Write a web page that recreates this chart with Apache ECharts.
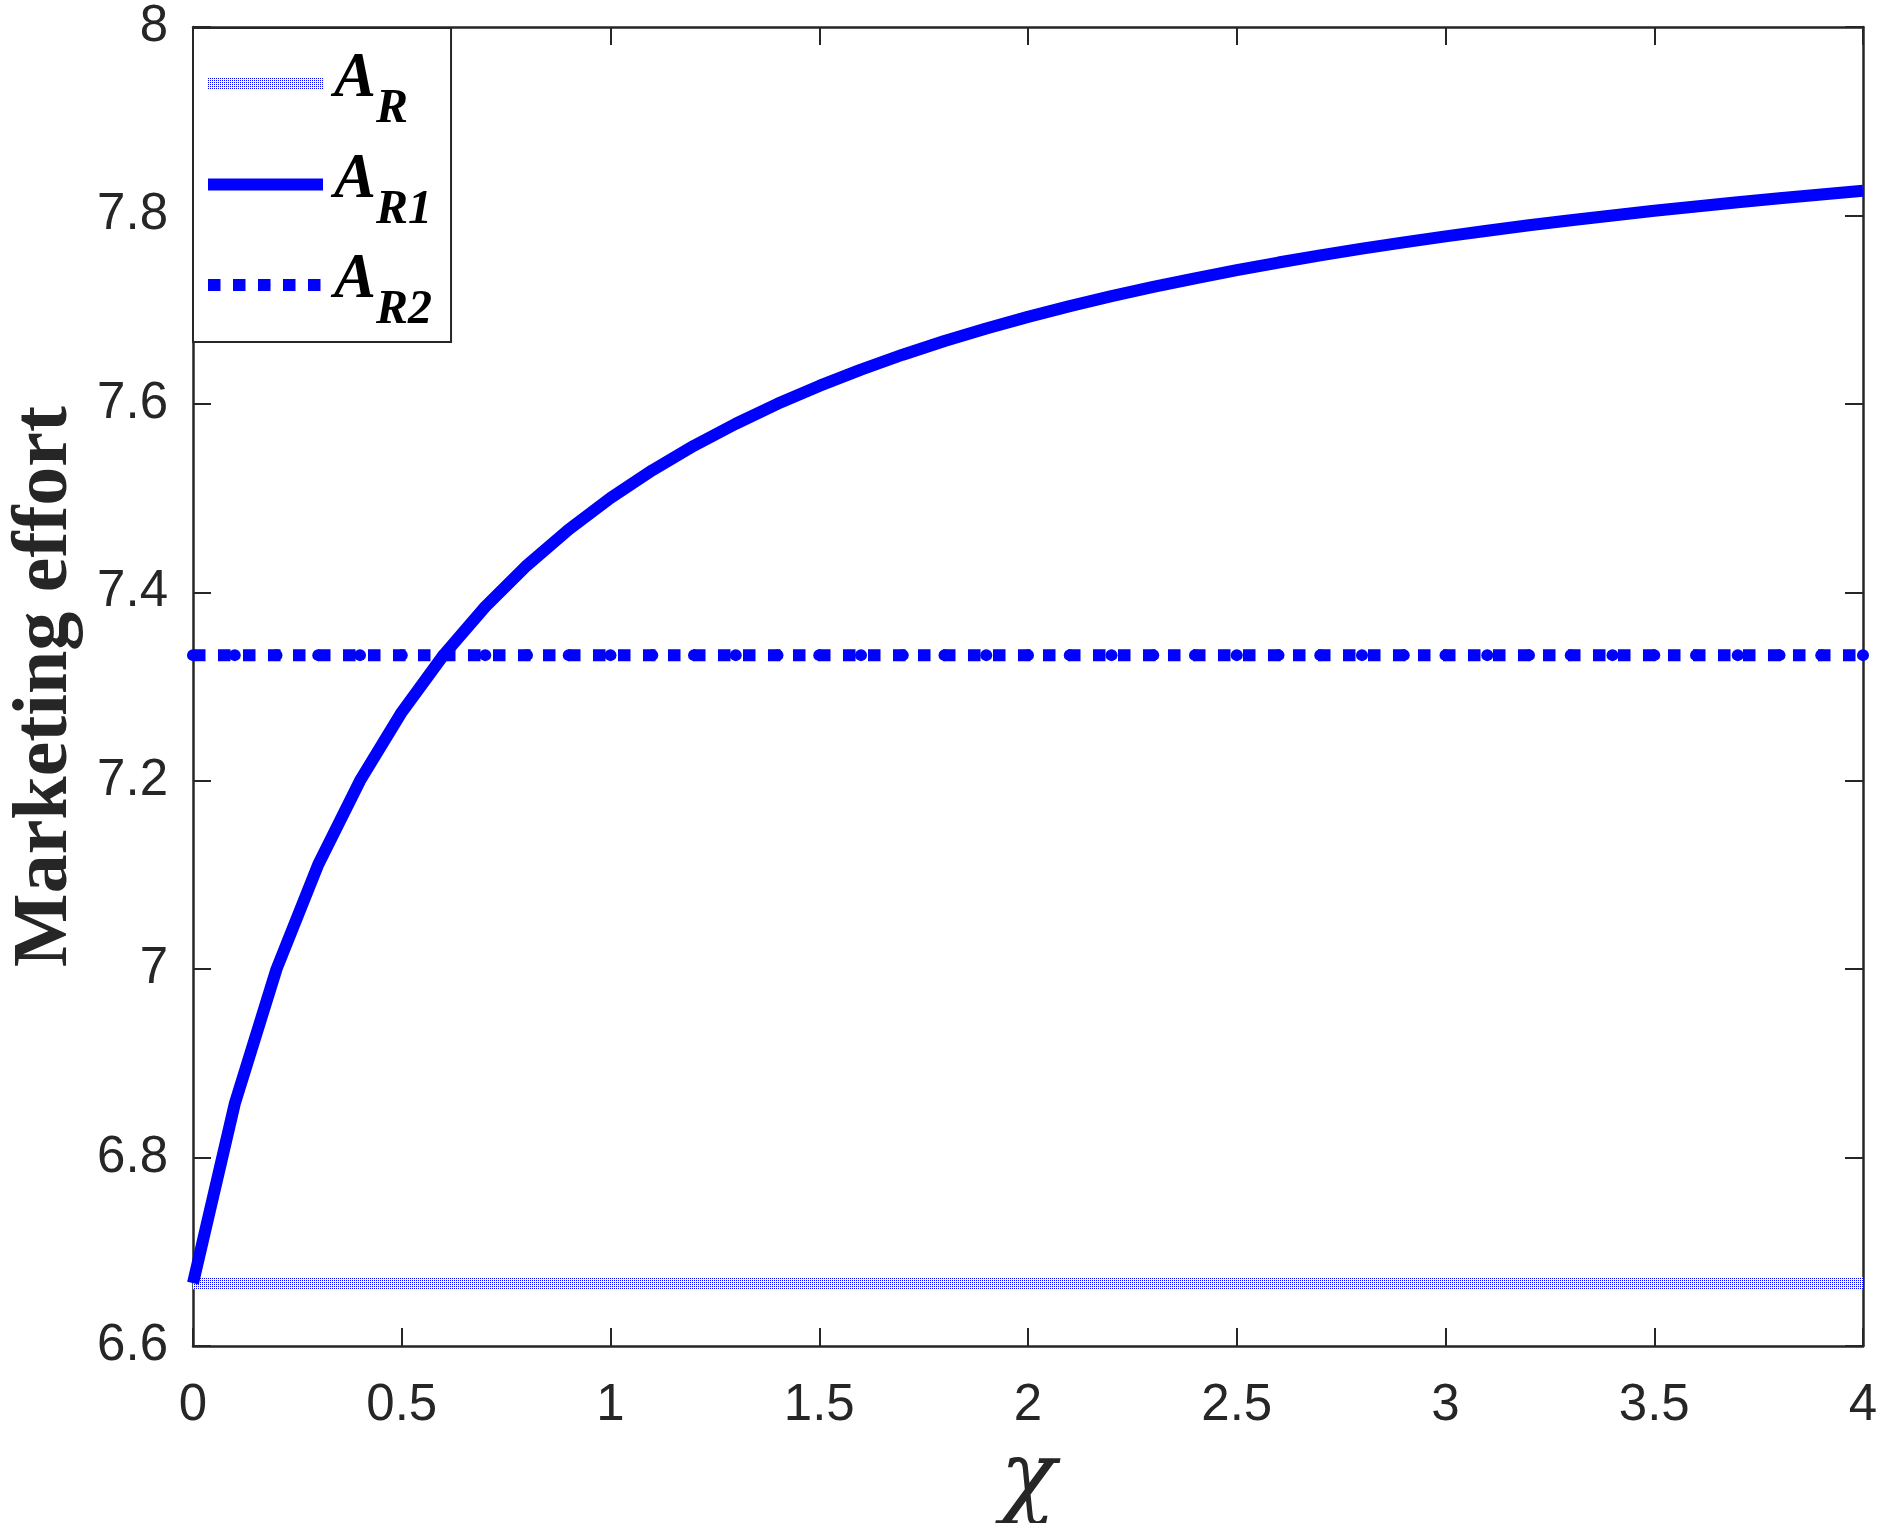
<!DOCTYPE html>
<html>
<head>
<meta charset="utf-8">
<script src="https://cdn.jsdelivr.net/npm/echarts@6/dist/echarts.min.js"></script>
<style>
html,body{margin:0;padding:0;background:#fff;}
#chart{width:1888px;height:1523px;}
</style>
</head>
<body>
<div id="chart"></div>
<script>
const chi = [0,0.1,0.2,0.3,0.4,0.5,0.6,0.7,0.8,0.9,1.0,1.1,1.2,1.3,1.4,1.5,1.6,1.7,1.8,1.9,2.0,2.1,2.2,2.3,2.4,2.5,2.6,2.7,2.8,2.9,3.0,3.1,3.2,3.3,3.4,3.5,3.6,3.7,3.8,3.9,4.0];
const A_R = [6.6667,6.6667,6.6667,6.6667,6.6667,6.6667,6.6667,6.6667,6.6667,6.6667,6.6667,6.6667,6.6667,6.6667,6.6667,6.6667,6.6667,6.6667,6.6667,6.6667,6.6667,6.6667,6.6667,6.6667,6.6667,6.6667,6.6667,6.6667,6.6667,6.6667,6.6667,6.6667,6.6667,6.6667,6.6667,6.6667,6.6667,6.6667,6.6667,6.6667,6.6667];
const A_R1 = [6.6667,6.8571,7.0,7.1111,7.2,7.2727,7.3333,7.3846,7.4286,7.4667,7.5,7.5294,7.5556,7.5789,7.6,7.619,7.6364,7.6522,7.6667,7.68,7.6923,7.7037,7.7143,7.7241,7.7333,7.7419,7.75,7.7576,7.7647,7.7714,7.7778,7.7838,7.7895,7.7949,7.8,7.8049,7.8095,7.814,7.8182,7.8222,7.8261];
const A_R2 = [7.3333,7.3333,7.3333,7.3333,7.3333,7.3333,7.3333,7.3333,7.3333,7.3333,7.3333,7.3333,7.3333,7.3333,7.3333,7.3333,7.3333,7.3333,7.3333,7.3333,7.3333,7.3333,7.3333,7.3333,7.3333,7.3333,7.3333,7.3333,7.3333,7.3333,7.3333,7.3333,7.3333,7.3333,7.3333,7.3333,7.3333,7.3333,7.3333,7.3333,7.3333];
const seriesNames = ['A_R','A_R1','A_R2'];
const subLabels = {A_R:'R', A_R1:'R1', A_R2:'R2'};
const xTicks = {min:0, max:4, interval:0.5};
const yTicks = {min:6.6, max:8, interval:0.2};

// dotted texture for A_R
const pc = document.createElement('canvas');
pc.width = 2; pc.height = 2;
const pctx = pc.getContext('2d');
pctx.fillStyle = '#ffffff'; pctx.fillRect(0,0,2,2);
pctx.fillStyle = '#0000ff'; pctx.fillRect(0,0,1,1);
const dotPattern = {image: pc, repeat: 'repeat'};

const ink = '#262626';
const blue = '#0000ff';
const pair = arr => chi.map((x,i)=>[x, arr[i]]);

const axisCommon = {
  type:'value',
  axisLine:{show:true, onZero:false, lineStyle:{color:ink, width:2.5}},
  axisTick:{show:true, inside:true, length:18, lineStyle:{color:ink, width:2}},
  splitLine:{show:false}
};

const chart = echarts.init(document.getElementById('chart'));
chart.setOption({
  animation:false,
  backgroundColor:'#ffffff',
  grid:{left:193, right:25, top:27, bottom:177, outerBoundsMode:'none', containLabel:false},
  xAxis:[
    Object.assign({}, axisCommon, {
      position:'bottom', min:xTicks.min, max:xTicks.max, interval:xTicks.interval,
      axisLabel:{show:true, fontSize:51, color:ink, fontFamily:'Liberation Sans', margin:34},
      name:'χ', nameLocation:'middle', nameGap:90,
      nameTextStyle:{fontFamily:'DejaVu Serif', fontStyle:'italic', fontSize:92, color:ink}
    }),
    Object.assign({}, axisCommon, {
      position:'top', min:xTicks.min, max:xTicks.max, interval:xTicks.interval,
      axisLabel:{show:false}
    })
  ],
  yAxis:[
    Object.assign({}, axisCommon, {
      position:'left', min:yTicks.min, max:yTicks.max, interval:yTicks.interval,
      axisLabel:{show:true, fontSize:51, color:ink, fontFamily:'Liberation Sans', margin:25, padding:[12,0,0,0]},
      name:'Marketing effort', nameLocation:'middle', nameGap:108,
      nameTextStyle:{fontFamily:'Liberation Serif', fontWeight:'bold', fontSize:78, color:ink}
    }),
    Object.assign({}, axisCommon, {
      position:'right', min:yTicks.min, max:yTicks.max, interval:yTicks.interval,
      axisLabel:{show:false}
    })
  ],
  legend:{
    orient:'vertical', left:193, top:28,
    itemWidth:115, itemHeight:12, itemGap:0.5,
    padding:[6,19,7,9],
    backgroundColor:'#ffffff', borderColor:ink, borderWidth:2, borderRadius:0,
    lineStyle:{width:'inherit'},
    data:[
      {name:'A_R', icon:'rect', itemStyle:{color:dotPattern}},
      {name:'A_R1', icon:'rect', itemStyle:{color:blue}},
      {name:'A_R2'}
    ],
    formatter: function(name){ return '{a|A}{s|' + subLabels[name] + '}'; },
    textStyle:{
      color:'#000',
      rich:{
        a:{fontFamily:'Liberation Serif', fontStyle:'italic', fontWeight:'bold', fontSize:63, lineHeight:64, padding:[0,0,8,6], color:'#000'},
        s:{fontFamily:'Liberation Serif', fontStyle:'italic', fontWeight:'bold', fontSize:48, lineHeight:48, padding:[52,0,0,0], color:'#000'}
      }
    }
  },
  series:[
    {name:'A_R', type:'line', data:pair(A_R), showSymbol:false, symbol:'none', z:2,
     color:dotPattern, lineStyle:{color:dotPattern, width:12}},
    {name:'A_R1', type:'line', data:pair(A_R1), showSymbol:false, symbol:'none', z:4,
     color:blue, lineStyle:{color:blue, width:12}},
    {name:'A_R2', type:'line', data:pair(A_R2), symbol:'circle', symbolSize:12, showSymbol:true, z:3,
     color:blue, itemStyle:{color:blue}, lineStyle:{color:blue, width:12, type:[12.5,12.5], cap:'butt'}}
  ]
});
</script>
</body>
</html>
